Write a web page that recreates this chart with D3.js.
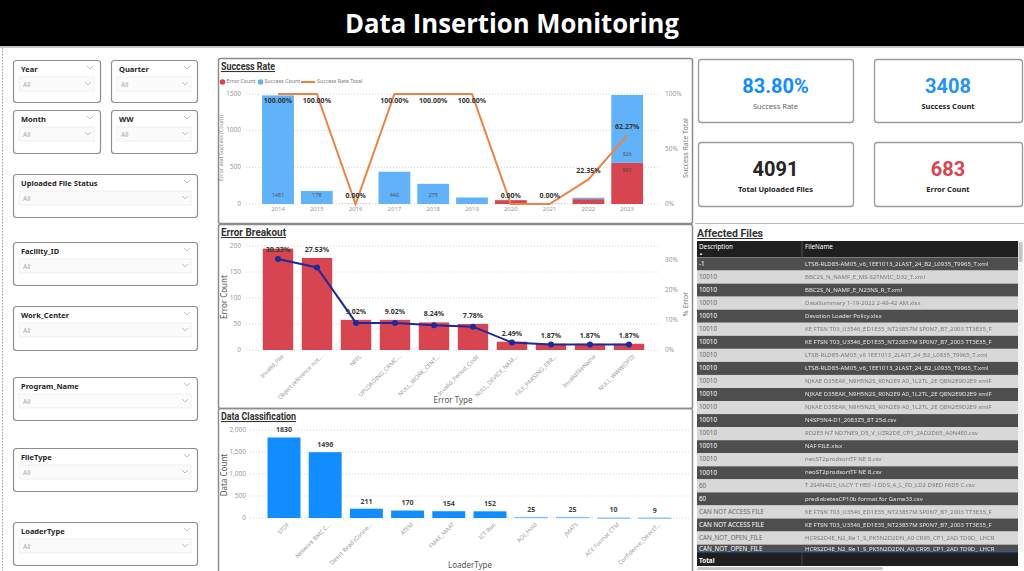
<!DOCTYPE html>
<html><head><meta charset="utf-8">
<script src="https://cdn.jsdelivr.net/npm/d3@7"></script>
<style>
html,body{margin:0;padding:0;background:#fff;}
svg{display:block;font-family:"Noto Sans","Open Sans",sans-serif;}
</style></head><body>
<svg id="c" width="1024" height="571"></svg>
<script>
// ---------------- DATA ----------------
const pageTitle = "Data Insertion Monitoring";
const slicerNames = ["Year","Quarter","Month","WW","Uploaded File Status","Facility_ID","Work_Center","Program_Name","FileType","LoaderType"];

const years = ["2014","2015","2016","2017","2018","2019","2020","2021","2022","2023"];
const successCount = [1481,178,0,440,275,89,0,0,19,926];
const errorCount   = [0,0,2,0,0,0,52,2,66,561];
const successRate  = [100,100,0,100,100,100,0,0,22.35,62.27];
const rateTicks = [0,50,100];

const errorTypes = ["Invalid_File","Object reference not...","NEEL","UPLOADING_CRMC...","NULL_WORK_CENT...","Invalid_Period_Code","NULL_DEVICE_NAM...","FILE_PARSING_ERR...","InvalidFileName","NULL_WWW(DFD)"];
const errorTypeCount = [195,177,58,58,53,50,16,12,12,12];
const errorPct = [30.33,27.53,9.02,9.02,8.24,7.78,2.49,1.87,1.87,1.87];
const pctTicks = [0,10,20,30];

const loaderTypes = ["STDF","Network BMC C...","Direct Read (Conne...","ATEM","FMAE_MAAT","ICT Run","AOI_Hold","JMATS","ACE Format CTM","Confidence_DirectT..."];
const loaderCount = [1830,1496,211,170,154,152,25,25,10,9];

const kpiValues = ["83.80%","3408","4091","683"];
const kpiLabels = ["Success Rate","Success Count","Total Uploaded Files","Error Count"];

const tableColumns = ["Description","FileName"];
const descriptions = ["-1","10010","10010","10010","10010","10010","10010","10010","10010","10010","10010","10010","10010","10010","10010","10010","10010","60","60","CAN NOT ACCESS FILE","CAN NOT ACCESS FILE","CAN_NOT_OPEN_FILE","CAN_NOT_OPEN_FILE"];
const fileNames = [
 "LTSB-RLD85-AM05_v6_1EE1013_2LAST_24_B2_L0935_T9965_T.xml",
 "BBC2S_N_NAMF_E_MS-S2TNVIC_D32_T.xml",
 "BBC2S_N_NAMF_E_N23NS_R_T.xml",
 "DataSummary 1-19-2022 2-49-42 AM.xlsx",
 "Devotion Loader Policy.xlsx",
 "KE FTSN T03_U3546_ED1E35_NT23857M SP0N7_B7_2003 TT3E35_F",
 "KE FTSN T03_U3546_ED1E35_NT23857M SP0N7_B7_2003 TT3E35_F",
 "LTSB-RLD85-AM05_v6 1EE1013_2LAST_24_B2_L0935_T9965_T.xml",
 "LTSB-RLD85-AM05_v6_1EE1013_2LAST_24_B2_L0935_T9965_T.xml",
 "NJKAE D35EAK_N9H5N2S_R0N2E9 A0_1L2TL_2E Q8N2E9D2E9 xmlF",
 "NJKAE D35EAK_N9H5N2S_R0N2E9 A0_1L2TL_2E Q8N2E9D2E9 xmlF",
 "NJKAE D35EAK_N9H5N2S_R0N2E9 A0_1L2TL_2E Q8N2E9D2E9 xmlF",
 "N4SP5N4-D1_2083Z5_8T 25d.csv",
 "RD2E5 N7 ND7NE9_D5_V_UZR2DE_CP1_2AD2D65_A0N4E0.csv",
 "NAF FILE.xlsx",
 "neoST2prodsortTF NE 8.csv",
 "neoST2prodsortTF NE 8.csv",
 "T 2S4N4D3_ULCY T HE0 -I DDS_A_L_FD_LD2 D9ED F6D5 C.csv",
 "prediabetesCP10b format for Game33.csv",
 "KE FTSN T03_U3546_ED1E35_NT23857M SP0N7_B7_2003 TT3E35_F",
 "KE FTSN T03_U3546_ED1E35_NT23857M SP0N7_B7_2003 TT3E35_F",
 "HCRS2D4E_N2_Re 1_S_PK5N2D2DN_A0 CR95_CP1_2AD TD9D_ LHCR",
 "HCRS2D4E_N2_Re 1_S_PK5N2D2DN_A0 CR95_CP1_2AD TD9D_ LHCR"
];

// ---------------- DRAWING ----------------
const svg = d3.select("#c");
const defs = svg.append("defs");
defs.append("filter").attr("id","blur").append("feGaussianBlur").attr("stdDeviation",0.7);

const GREY = "#9a9a9a", DARK = "#252423";
const BLUE_L = "#62B2F9", RED = "#D64550", ORANGE = "#EE8245", NAVY = "#1B2A9C", BLUE = "#118DFF";

// header
svg.append("rect").attr("x",0).attr("y",0).attr("width",1024).attr("height",46).attr("fill","#000");
svg.append("line").attr("x1",0).attr("x2",1024).attr("y1",47).attr("y2",47).attr("stroke","#b5b5b5").attr("stroke-width",1.5);
svg.append("text").attr("x",512).attr("y",33).attr("text-anchor","middle")
  .attr("fill","#fff").attr("font-family","'Open Sans',sans-serif").attr("font-weight",700)
  .attr("font-size",26).attr("textLength",334).attr("lengthAdjust","spacingAndGlyphs").text(pageTitle);

// left dashed border
svg.append("line").attr("x1",2.5).attr("x2",2.5).attr("y1",48).attr("y2",571)
  .attr("stroke","#999").attr("stroke-dasharray","1.5,1.5");

// slicers
const slicerBoxes = [[13,60,87,42],[111,60,86,42],[13,110,87,43],[111,110,86,43],[13,174,184,43],[13,242,184,43],[13,306,184,44],[13,377,184,43],[13,448,184,43],[13,522,184,43]];
function chevron(g,x,y){
  g.append("path").attr("d",`M${x},${y} l3,3 l3,-3`).attr("fill","none").attr("stroke","#b0b0b0").attr("stroke-width",0.8);
}
slicerNames.forEach((name,i)=>{
  const [x,y,w,h] = slicerBoxes[i];
  const g = svg.append("g");
  g.append("rect").attr("x",x+0.5).attr("y",y+0.5).attr("width",w).attr("height",h).attr("rx",3)
    .attr("fill","#fff").attr("stroke","#8f8f8f").attr("stroke-width",1.2);
  g.append("text").attr("x",x+8).attr("y",y+11.5).attr("font-size",7.5).attr("font-weight",700).attr("fill",DARK).text(name);
  chevron(g,x+w-13,y+6);
  g.append("rect").attr("x",x+6).attr("y",y+17).attr("width",w-12).attr("height",14)
    .attr("fill","#fbfbfb").attr("stroke","#efefef");
  g.append("text").attr("x",x+10).attr("y",y+27).attr("font-size",6.5).attr("fill","#aaa").text("All");
  chevron(g,x+w-15,y+22);
});

// panel borders
[[218,58,474,165],[218,224,474,184],[218,408,474,175]].forEach(([x,y,w,h])=>{
  svg.append("rect").attr("x",x+0.5).attr("y",y+0.5).attr("width",w).attr("height",h).attr("rx",2)
    .attr("fill","none").attr("stroke","#8c8c8c").attr("stroke-width",1.5);
});

function panelTitle(x,y,t,len){
  svg.append("text").attr("x",x).attr("y",y).attr("font-family","Roboto,sans-serif").attr("font-weight",700)
    .attr("font-size",10.5).attr("fill","#333").attr("text-decoration","underline")
    .attr("textLength",len).attr("lengthAdjust","spacingAndGlyphs").text(t);
}
function grid(g,ys,x1,x2){
  ys.forEach(y=>g.append("line").attr("x1",x1).attr("x2",x2).attr("y1",y).attr("y2",y)
    .attr("stroke","#d6d6d6").attr("stroke-dasharray","1,2"));
}
function vtitle(x,y,t,size,color){
  svg.append("text").attr("transform",`translate(${x},${y}) rotate(-90)`).attr("text-anchor","middle")
    .attr("dominant-baseline","middle").attr("font-size",size).attr("fill",color).text(t);
}

// ===== Success Rate =====
panelTitle(221,70,"Success Rate",54);
{
  const g = svg.append("g");
  const x = d3.scaleBand().domain(years).range([258.6,646.6]).paddingInner(0.18).paddingOuter(0.09);
  const y = d3.scaleLinear().domain([0,1500]).range([204,94]);
  const yr = d3.scaleLinear().domain([0,100]).range([204,94]);
  const lt = y.ticks(3);
  grid(g, lt.map(y), 246, 660);
  lt.forEach(t=>g.append("text").attr("x",241).attr("y",y(t)).attr("text-anchor","end").attr("dominant-baseline","middle")
    .attr("font-size",6.5).attr("fill",GREY).text(t));
  rateTicks.forEach(t=>g.append("text").attr("x",665).attr("y",yr(t)).attr("dominant-baseline","middle")
    .attr("font-size",6.5).attr("fill",GREY).text(t+"%"));
  // bars
  years.forEach((yy,i)=>{
    const e = errorCount[i], s = successCount[i];
    if(e>0) g.append("rect").attr("x",x(yy)).attr("width",x.bandwidth()).attr("y",y(e)).attr("height",y(0)-y(e)).attr("fill",RED);
    if(s>0) g.append("rect").attr("x",x(yy)).attr("width",x.bandwidth()).attr("y",y(e+s)).attr("height",y(e)-y(e+s)).attr("fill",BLUE_L);
    const cx = x(yy)+x.bandwidth()/2;
    if(y(e)-y(e+s)>12) g.append("text").attr("x",cx).attr("y",y(e)-8).attr("text-anchor","middle").attr("dominant-baseline","middle")
      .attr("font-size",5.5).attr("fill","#555").text(s);
    if(y(0)-y(e)>12) g.append("text").attr("x",cx).attr("y",y(e)+8).attr("text-anchor","middle").attr("dominant-baseline","middle")
      .attr("font-size",5.5).attr("fill","#444").text(e);
    g.append("text").attr("x",cx).attr("y",209).attr("text-anchor","middle").attr("dominant-baseline","middle")
      .attr("font-size",6).attr("fill",GREY).text(yy);
  });
  const line = d3.line().x((d,i)=>x(years[i])+x.bandwidth()/2).y(d=>yr(d));
  g.append("path").attr("d",line(successRate)).attr("fill","none").attr("stroke",ORANGE).attr("stroke-width",2);
  successRate.forEach((r,i)=>{
    const cx = x(years[i])+x.bandwidth()/2;
    g.append("text").attr("x",cx).attr("y",Math.max(yr(r)-8,101)).attr("text-anchor","middle").attr("dominant-baseline","middle")
      .attr("font-size",7).attr("font-weight",700).attr("fill","#333").text(r.toFixed(2)+"%");
  });
  // legend
  const lg = svg.append("g").attr("font-size",5.3).attr("fill","#777");
  lg.append("circle").attr("cx",222.5).attr("cy",82).attr("r",2.8).attr("fill",RED);
  lg.append("text").attr("x",226.5).attr("y",82).attr("dominant-baseline","middle").text("Error Count");
  lg.append("circle").attr("cx",260.5).attr("cy",82).attr("r",2.8).attr("fill",BLUE_L);
  lg.append("text").attr("x",264.5).attr("y",82).attr("dominant-baseline","middle").text("Success Count");
  lg.append("line").attr("x1",301).attr("x2",315).attr("y1",82).attr("y2",82).attr("stroke",ORANGE).attr("stroke-width",2);
  lg.append("text").attr("x",317).attr("y",82).attr("dominant-baseline","middle").text("Success Rate Total");
  vtitle(222,148,"Error and Success (Count)",5.5,"#888");
  vtitle(686,148,"Success Rate Total",7,"#777");
}

// ===== Error Breakout =====
panelTitle(221,236,"Error Breakout",65);
{
  const g = svg.append("g");
  const x = d3.scaleBand().domain(errorTypes).range([258.5,648.5]).paddingInner(0.22).paddingOuter(0.11);
  const y = d3.scaleLinear().domain([0,200]).range([350,246]);
  const yp = d3.scaleLinear().domain([0,30]).range([350,260]);
  const lt = y.ticks(4);
  grid(g, lt.map(y), 246, 660);
  lt.forEach(t=>g.append("text").attr("x",241).attr("y",y(t)).attr("text-anchor","end").attr("dominant-baseline","middle")
    .attr("font-size",6.5).attr("fill",GREY).text(t));
  pctTicks.forEach(t=>g.append("text").attr("x",665).attr("y",yp(t)).attr("dominant-baseline","middle")
    .attr("font-size",6.5).attr("fill",GREY).text(t+"%"));
  const cx = d=>x(d)+x.bandwidth()/2;
  g.selectAll(".eb").data(errorTypes).join("rect").attr("x",d=>x(d)).attr("width",x.bandwidth())
    .attr("y",(d,i)=>y(errorTypeCount[i])).attr("height",(d,i)=>y(0)-y(errorTypeCount[i])).attr("fill",RED);
  const line = d3.line().x((d,i)=>cx(errorTypes[i])).y(d=>yp(d));
  g.append("path").attr("d",line(errorPct)).attr("fill","none").attr("stroke",NAVY).attr("stroke-width",2);
  errorPct.forEach((p,i)=>{
    g.append("circle").attr("cx",cx(errorTypes[i])).attr("cy",yp(p)).attr("r",3).attr("fill",NAVY);
    const ly = Math.max(Math.min(y(errorTypeCount[i]),yp(p))-8,250);
    g.append("text").attr("x",cx(errorTypes[i])).attr("y",ly).attr("text-anchor","middle").attr("dominant-baseline","middle")
      .attr("font-size",7).attr("font-weight",700).attr("fill","#333").text(p.toFixed(2)+"%");
  });
  errorTypes.forEach(d=>{
    g.append("text").attr("transform",`translate(${cx(d)+6},357) rotate(-45)`).attr("text-anchor","end")
      .attr("font-size",5.8).attr("fill",GREY).text(d);
  });
  g.append("text").attr("x",453).attr("y",401).attr("text-anchor","middle").attr("dominant-baseline","middle")
    .attr("font-size",8).attr("fill","#555").text("Error Type");
  vtitle(225,297,"Error Count",8,"#555");
  vtitle(686,304,"% Error",7,"#777");
}

// ===== Data Classification =====
panelTitle(221,420,"Data Classification",75);
{
  const g = svg.append("g");
  const x = d3.scaleBand().domain(loaderTypes).range([263.4,675.4]).paddingInner(0.2).paddingOuter(0.1);
  const y = d3.scaleLinear().domain([0,2000]).range([518,430]);
  const lt = y.ticks(4);
  grid(g, lt.map(y), 250, 690);
  lt.forEach(t=>g.append("text").attr("x",246).attr("y",y(t)).attr("text-anchor","end").attr("dominant-baseline","middle")
    .attr("font-size",6.5).attr("fill",GREY).text(d3.format(",")(t)));
  const cx = d=>x(d)+x.bandwidth()/2;
  loaderTypes.forEach((d,i)=>{
    const v = loaderCount[i];
    g.append("rect").attr("x",x(d)).attr("width",x.bandwidth()).attr("y",y(v)).attr("height",Math.max(y(0)-y(v),1.2))
      .attr("fill",v<50?"#7BBDF7":BLUE);
    g.append("text").attr("x",cx(d)).attr("y",y(v)-7).attr("text-anchor","middle").attr("dominant-baseline","middle")
      .attr("font-size",7).attr("font-weight",700).attr("fill","#444").text(v);
    g.append("text").attr("transform",`translate(${cx(d)+6},525) rotate(-45)`).attr("text-anchor","end")
      .attr("font-size",5.8).attr("fill",GREY).text(d);
  });
  g.append("text").attr("x",470).attr("y",566).attr("text-anchor","middle").attr("dominant-baseline","middle")
    .attr("font-size",8).attr("fill","#555").text("LoaderType");
  vtitle(225,475,"Data Count",8,"#555");
}

// ===== KPI cards =====
const kpiBoxes = [[698,59,155,63],[874,59,148,63],[698,142,155,64],[874,142,148,64]];
const kpiColors = [BLUE,"#2A92F0",DARK,RED];
kpiValues.forEach((v,i)=>{
  const [x,y,w,h] = kpiBoxes[i];
  svg.append("rect").attr("x",x+0.5).attr("y",y+0.5).attr("width",w).attr("height",h).attr("rx",3)
    .attr("fill","#fff").attr("stroke","#9a9a9a").attr("stroke-width",1.3);
  svg.append("text").attr("x",x+w/2).attr("y",y+29).attr("text-anchor","middle").attr("dominant-baseline","middle")
    .attr("font-family","Roboto,sans-serif").attr("font-weight",700).attr("font-size",20).attr("fill",kpiColors[i]).text(v);
  svg.append("text").attr("x",x+w/2).attr("y",y+48).attr("text-anchor","middle").attr("dominant-baseline","middle")
    .attr("font-size",7.5).attr("font-weight",i===0?400:700).attr("fill",i===0?"#666":DARK).text(kpiLabels[i]);
});

// ===== Affected Files table =====
svg.append("line").attr("x1",695).attr("x2",1024).attr("y1",223.5).attr("y2",223.5).attr("stroke","#bbb");
panelTitle(697,237,"Affected Files",66);
{
  const g = svg.append("g");
  const tx = 697, tw = 321, colX = 802, rowH = 13.05, top = 257.5, bottom = 552;
  g.append("rect").attr("x",tx).attr("y",241).attr("width",tw).attr("height",16.5).attr("fill","#1f1f1f");
  g.append("text").attr("x",tx+2).attr("y",247).attr("dominant-baseline","middle").attr("font-size",6.3).attr("fill","#fff").text(tableColumns[0]);
  g.append("text").attr("x",tx+2).attr("y",254).attr("dominant-baseline","middle").attr("font-size",4).attr("fill","#fff").text("▲");
  g.append("text").attr("x",colX+3).attr("y",247).attr("dominant-baseline","middle").attr("font-size",6.3).attr("fill","#fff").text(tableColumns[1]);
  g.append("line").attr("x1",colX).attr("x2",colX).attr("y1",241).attr("y2",257.5).attr("stroke","#555");
  defs.append("clipPath").attr("id","tclip").append("rect").attr("x",tx).attr("y",top).attr("width",tw).attr("height",bottom-top);
  const body = g.append("g").attr("clip-path","url(#tclip)");
  descriptions.forEach((d,i)=>{
    const y0 = top + i*rowH, dark = i%2===0;
    const ty = Math.min(y0+rowH/2, 549.5);
    body.append("rect").attr("x",tx).attr("y",y0).attr("width",tw).attr("height",rowH).attr("fill",dark?"#4e4e4e":"#d8d8d8");
    body.append("text").attr("x",tx+2).attr("y",ty).attr("dominant-baseline","middle")
      .attr("font-size",6.3).attr("fill",dark?"#fff":"#6a6a6a").text(d);
    body.append("text").attr("x",colX+3).attr("y",ty).attr("dominant-baseline","middle")
      .attr("font-size",6).attr("fill",dark?"#e6e6e6":"#7a7a7a").attr("filter","url(#blur)").text(fileNames[i]);
  });
  g.append("rect").attr("x",tx).attr("y",bottom).attr("width",tw).attr("height",14).attr("fill","#1f1f1f");
  g.append("line").attr("x1",tx).attr("x2",tx+tw).attr("y1",bottom).attr("y2",bottom).attr("stroke","#2c6fb5").attr("stroke-width",0.8);
  g.append("line").attr("x1",colX).attr("x2",colX).attr("y1",bottom).attr("y2",bottom+14).attr("stroke","#444");
  g.append("text").attr("x",tx+2).attr("y",bottom+9).attr("dominant-baseline","middle").attr("font-size",6.3)
    .attr("font-weight",700).attr("fill","#fff").text("Total");
  // scrollbars
  g.append("rect").attr("x",1018).attr("y",241).attr("width",5).attr("height",311).attr("fill","#f3f3f3");
  g.append("rect").attr("x",1018.5).attr("y",242).attr("width",4).attr("height",20).attr("rx",2).attr("fill","#c4c4c4");
  g.append("rect").attr("x",tx).attr("y",567).attr("width",186).attr("height",3).attr("rx",1.5).attr("fill","#c8c8c8");
}
</script>
</body></html>
